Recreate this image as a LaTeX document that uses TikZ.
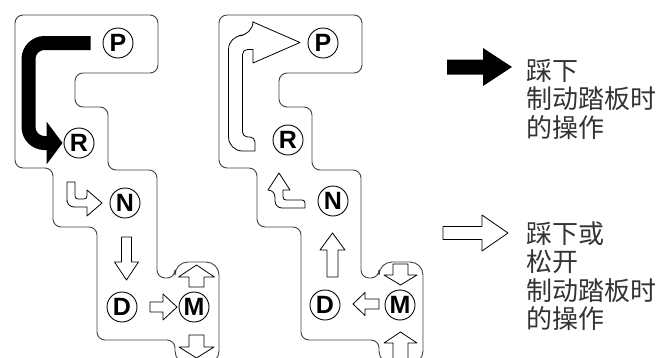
\documentclass[tikz,border=0pt]{standalone}
\usepackage{fontspec}
\setmainfont{Liberation Sans}
\newfontfamily\cjk{Noto Sans CJK SC}
\usetikzlibrary{arrows.meta, positioning, calc}

\begin{document}
\begin{tikzpicture}[
    x=1pt, y=-1pt,
    gate/.style={draw=black!75, line width=0.9pt, rounded corners=8pt},
    gearpos/.style={circle, draw, line width=0.9pt, minimum size=30pt, inner sep=0pt, font=\fontsize{25}{25}\selectfont\bfseries},
    hollow/.style={draw, fill=white, line width=0.8pt, line join=round},
    brake/.style={line width=14pt, rounded corners=16pt, -{Triangle[length=16pt, width=42pt]}},
    legend/.style={anchor=west, align=left, inner sep=0pt, text=black!80, font=\cjk\fontsize{26}{28.5}\selectfont}
  ]
    \useasboundingbox (0,0) rectangle (656,357);
    \clip (0,0) rectangle (656,357);

    % gate outlines
    \foreach \dx in {0,204} {
      \draw[gate, xshift=\dx pt] (15,15) -- (158,15) -- (158,73) -- (75,73) -- (75,107) -- (108,107)
        -- (108,170) -- (157,170) -- (157,278) -- (175,278) {[rounded corners=13pt] -- (175,262) -- (219,262) -- (219,364)
        -- (175,364)} -- (175,340) -- (97,340) -- (97,227) -- (53,227) -- (53,168) -- (15,168) -- cycle;
    }

    % left gate
    \node[gearpos] (P1) at (118,43) {P};
    \node[gearpos] (R1) at (79,143) {R};
    \node[gearpos] (N1) at (125,203) {N};
    \node[gearpos] (D1) at (122,307) {D};
    \node[gearpos] (M1) at (194,307) {M};

    \draw[brake] ([xshift=-12pt]P1.west) -| ($(R1.west)+(-35,0)$) -- ([xshift=-1pt]R1.west);

    \draw[hollow] (67,182) -- (75,182) {[rounded corners=3pt] -- (75,199) -- (87,199)} -- (87,190) -- (102,203)
      -- (87,216) -- (87,207) {[rounded corners=7pt] -- (67,207) -- (67,195)} -- cycle;
    \draw[hollow] (121.5,237) -- (131.5,237) -- (131.5,262) -- (138.5,262) -- (126.5,280) -- (114.5,262) -- (121.5,262) -- cycle;
    \draw[hollow] (150,302) -- (163,302) -- (163,294) -- (177,307) -- (163,320) -- (163,312) -- (150,312) -- cycle;
    \draw[hollow] (189,287) -- (189,277) -- (178.5,277) -- (196.5,265) -- (214.5,277) -- (204,277) -- (204,287) -- cycle;
    \draw[hollow] (189,335) -- (204,335) -- (204,347) -- (214,347) -- (196.5,358) -- (179,347) -- (189,347) -- cycle;

    % right gate
    \node[gearpos] (P2) at (323,43) {P};
    \node[gearpos] (R2) at (288,140) {R};
    \node[gearpos] (N2) at (333,201) {N};
    \node[gearpos] (D2) at (325,305) {D};
    \node[gearpos] (M2) at (400,305) {M};

    \draw[hollow] (255,151) {[rounded corners=14pt] -- (228.5,151) -- (228.5,35.5) -- (253,35.5)} -- (253,22) -- (300,42.5)
      -- (253,63) -- (253,49.5) {[rounded corners=5pt] -- (242.5,49.5) -- (242.5,137) -- (255,137)} -- cycle;
    \draw[hollow] (279,173) -- (290,190) -- (283,190) {[rounded corners=3pt] -- (283,200) -- (305,200)} -- (305,208)
      {[rounded corners=7pt] -- (275,208) -- (275,190)} -- (268,190) -- cycle;
    \draw[hollow] (327,277) -- (338,277) -- (338,250) -- (345,250) -- (332.5,233) -- (320,250) -- (327,250) -- cycle;
    \draw[hollow] (379,299) -- (365,299) -- (365,292.5) -- (353,304) -- (365,315.5) -- (365,309) -- (379,309) -- cycle;
    \draw[hollow] (393,264) -- (408,264) -- (408,275) -- (417,275) -- (400.5,285) -- (384,275) -- (393,275) -- cycle;
    \draw[hollow] (393,360) -- (393,343) -- (384,343) -- (400.5,332) -- (417,343) -- (408,343) -- (408,360) -- cycle;

    % legend
    \fill (447,59.5) -- (483,59.5) -- (483,48) -- (512,67) -- (483,86) -- (483,74.5) -- (447,74.5) -- cycle;
    \draw[hollow] (443,226.5) -- (482,226.5) -- (482,215) -- (508,233) -- (482,251) -- (482,239.5) -- (443,239.5) -- cycle;

    \node[legend] (pressText) at (526,99) {踩下\\制动踏板时\\的操作};
    \node[legend] (eitherText) at (526,276) {踩下或\\松开\\制动踏板时\\的操作};
\end{tikzpicture}
\end{document}
